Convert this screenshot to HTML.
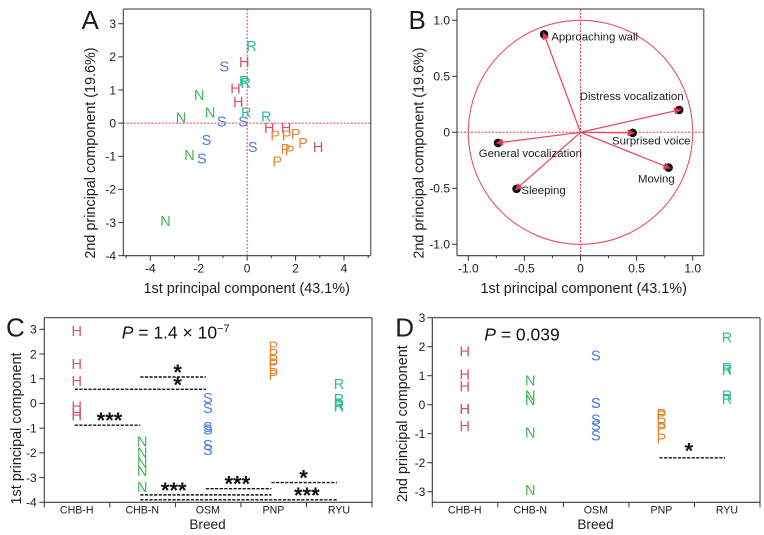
<!DOCTYPE html>
<html lang="en">
<head>
<meta charset="utf-8">
<title>Principal component analysis by breed</title>
<style>
html,body{margin:0;padding:0;background:#fff;width:764px;height:535px;overflow:hidden}
svg{display:block;font-family:"Liberation Sans",Arial,sans-serif;filter:blur(0.3px)}
text{fill:#1c1c1c}
.tick{font-size:12px}
.cat{font-size:10.6px}
.title{font-size:14.4px}
.breedt{font-size:13.6px}
.panel{font-size:26px}
.pv{font-size:17.5px;fill:#111}
.lab{font-size:11.4px}
.star{font-size:22px;font-weight:bold;fill:#111}
.ltr{font-size:14.5px;text-anchor:middle}
</style>
</head>
<body>
<svg id="fig" width="764" height="535" viewBox="0 0 764 535" xmlns="http://www.w3.org/2000/svg"></svg>
<script>
// ---------- data ----------
const breedNames = ["CHB-H","CHB-N","OSM","PNP","RYU"];
const breedLetters = ["H","N","S","P","R"];
const breedColors = ["#d8506c","#44b552","#4c7ae2","#de8a34","#2fbc98"];
const pc1H = [-0.12,-0.48,-0.37,0.91,1.61,2.93];
const pc2H = [1.85,1.05,0.64,-0.14,-0.14,-0.72];
const pc1N = [-1.98,-1.53,-2.73,-2.38,-3.37];
const pc2N = [0.85,0.32,0.17,-0.96,-2.94];
const pc1S = [-0.94,-1.05,-0.17,-1.68,-1.87,0.23];
const pc2S = [1.71,0.06,0.06,-0.50,-1.06,-0.71];
const pc1P = [1.16,1.63,2.00,2.31,1.58,1.76,1.24];
const pc2P = [-0.36,-0.36,-0.32,-0.60,-0.77,-0.82,-1.15];
const pc1R = [0.18,-0.12,-0.06,-0.04,0.79];
const pc2R = [2.33,1.28,1.21,0.32,0.20];
const pc1All = [pc1H,pc1N,pc1S,pc1P,pc1R];
const pc2All = [pc2H,pc2N,pc2S,pc2P,pc2R];

const loadingNames = ["Approaching wall","Distress vocalization","Surprised voice","Moving","Sleeping","General vocalization"];
const loadingPc1 = [-0.325,0.88,0.465,0.785,-0.57,-0.735];
const loadingPc2 = [0.875,0.20,-0.005,-0.315,-0.505,-0.095];

const ticksAX = [-4,-2,0,2,4];
const minorAX = [-5,-3,-1,1,3,5];
const ticksAY = [3,2,1,0,-1,-2,-3,-4];
const ticksBX = [-1,-0.5,0,0.5,1];
const ticksBXLabels = ["-1.0","-0.5","0","0.5","1.0"];
const minorBX = [-0.75,-0.25,0.25,0.75];
const ticksBY = [1,0.5,0,-0.5,-1];
const ticksBYLabels = ["1.0","0.5","0","-0.5","-1.0"];
const ticksCY = [3,2,1,0,-1,-2,-3,-4];
const ticksDY = [3,2,1,0,-1,-2,-3];

const bracketFromC = [1,0,0,1,2,3,1];
const bracketToC = [2,2,1,3,3,4,4];
const bracketLevelC = [1.07,0.57,-0.88,-3.70,-3.45,-3.20,-3.90];
const bracketStarsC = ["*","*","***","***","***","*","***"];
const bracketStarPosC = [1.54,1.54,0.50,1.48,2.45,3.46,3.51];
const bracketFromD = [3];
const bracketToD = [4];
const bracketLevelD = [-1.83];
const bracketStarsD = ["*"];
const bracketStarPosD = [3.42];

// ---------- helpers ----------
const NS = "http://www.w3.org/2000/svg";
const svg = document.getElementById("fig");
function linear(d0,r0,d1,r1){ return v => r0 + (v-d0)*(r1-r0)/(d1-d0); }
function mk(tag,parent,attrs){
  const e = document.createElementNS(NS,tag);
  for(const k in attrs) e.setAttribute(k,attrs[k]);
  parent.appendChild(e);
  return e;
}
function group(parent,name){
  const g = mk("g",parent,{});
  
  
  return g;
}
function line(parent,x1,y1,x2,y2,stroke,w,dash){
  const a = {x1,y1,x2,y2,stroke,"stroke-width":w};
  if(dash) a["stroke-dasharray"]=dash;
  const l = mk("line",parent,a);
  
  return l;
}
function text(parent,cls,x,y,str,anchor){
  const t = mk("text",parent,{class:cls,x,y});
  if(anchor) t.setAttribute("text-anchor",anchor);
  t.textContent = str;
  
  return t;
}
function frame(parent,L,T,R,B,topCol,topW){
  const g = group(parent,"plot-frame");
  const a = line(g,L,B,R,B,"#3c3c3c",1.1);
  
  const b = line(g,L,T,L,B,"#3c3c3c",1.1);
  
  const c = line(g,L,T,R,T,topCol,topW);
  
  const d = line(g,R,T,R,B,topCol,topW);
  
}
function yAxis(parent,values,labels,sy,L,labelX){
  const g = group(parent,"y-axis");
  values.forEach((v,i)=>{
    const tk = line(g,L-5,sy(v),L,sy(v),"#333",1);
    
    const t = text(g,"tick",labelX,sy(v)+4.3,labels[i],"end");
    
  });
}
function xAxis(parent,values,labels,minor,sx,B){
  const g = group(parent,"x-axis");
  values.forEach((v,i)=>{
    const tk = line(g,sx(v),B,sx(v),B+5,"#333",1);
    
    const t = text(g,"tick",sx(v),B+17,labels[i],"middle");
    
  });
  minor.forEach(v=>{
    const tk = line(g,sx(v),B,sx(v),B+2.5,"#333",1);
    
  });
}
function catAxis(parent,sx,L,R,B){
  const g = group(parent,"breed-axis");
  const step = (R-L)/breedNames.length;
  for(let i=0;i<=breedNames.length;i++){
    const tk = line(g,L+i*step,B,L+i*step,B+5,"#333",1);
    
  }
  breedNames.forEach((n,i)=>{
    const t = text(g,"cat",sx(i),B+11.2,n,"middle");
    
  });
}
function yTitle(parent,x,y,str){
  const t = mk("text",parent,{class:"title",transform:`translate(${x},${y}) rotate(-90)`,"text-anchor":"middle"});
  t.textContent = str;
  
  
}
function letter(parent,x,y,b){
  const t = text(parent,"ltr",x,y+5.2,breedLetters[b]);
  t.setAttribute("style","fill:"+breedColors[b]);
  
}
function brackets(parent,from,to,levels,stars,pos,sx,sy,starGap){
  const g = group(parent,"significance-brackets");
  levels.forEach((lv,i)=>{
    const l = line(g,sx(from[i])-2,sy(lv),sx(to[i])-2,sy(lv),"#111",1.4,"3.2 1.4");
    
    const t = text(g,"star",sx(pos[i]),sy(lv)+starGap,stars[i],"middle");
    
  });
}

// ---------- panel A ----------
(function(){
  const p = group(svg,"panel-a");
  const L=123.3,R=370.7,T=9,B=255.7;
  const sx = linear(-4,150.3,4,344), sy = linear(3,23.7,-4,255.7);
  frame(p,L,T,R,B,"#777",1.5);
  const z1 = line(p,L,sy(0),R,sy(0),"#e8384f",1,"2 1.5");
  
  const z2 = line(p,sx(0),T,sx(0),B,"#e8384f",1,"2 1.5");
  
  yAxis(p,ticksAY,ticksAY.map(String),sy,L,116);
  xAxis(p,ticksAX,ticksAX.map(String),minorAX,sx,B);
  const pts = group(p,"scatter-points");
  pc1All.forEach((arr,b)=>arr.forEach((v,i)=>letter(pts,sx(v),sy(pc2All[b][i]),b)));
  const xt = text(p,"title",246.7,293,"1st principal component (43.1%)","middle");
  
  yTitle(p,95,153,"2nd principal component (19.6%)");
  const pl = text(p,"panel",81.5,29,"A");
  
})();

// ---------- panel B ----------
(function(){
  const p = group(svg,"panel-b");
  const L=457,R=703.7,T=9,B=255.7;
  const sx = linear(-1,468.3,1,692.7), sy = linear(1,20.3,-1,244.3);
  frame(p,L,T,R,B,"#777",1.5);
  const z1 = line(p,L,sy(0),R,sy(0),"#e8384f",1,"2 1.5");
  
  const z2 = line(p,sx(0),T,sx(0),B,"#e8384f",1,"2 1.5");
  
  const c = mk("ellipse",p,{cx:sx(0),cy:sy(0),rx:sx(1)-sx(0),ry:sy(-1)-sy(0),fill:"none",stroke:"#e8505f","stroke-width":1.1});
  
  
  yAxis(p,ticksBY,ticksBYLabels,sy,L,450);
  xAxis(p,ticksBX,ticksBXLabels,minorBX,sx,B);
  const labelDx = [7.3,-99.5,-20.7,-30.6,4.8,-19.3];
  const labelDy = [6.4,-10,11.4,15,5,14.3];
  loadingNames.forEach((n,i)=>{
    const x = sx(loadingPc1[i]), y = sy(loadingPc2[i]);
    const g = group(p,"loading-"+n.toLowerCase().replace(/ /g,"-"));
    const dot = mk("circle",g,{cx:x,cy:y,r:4.3,fill:"#111"});
    
    
    const v = line(g,sx(0),sy(0),x,y,"#ea4058",1.2);
    
    const dx = x-sx(0), dy = y-sy(0), len = Math.hypot(dx,dy), ux=dx/len, uy=dy/len;
    const tipx = x+ux*2.5, tipy = y+uy*2.5, bx = tipx-ux*7.5, by = tipy-uy*7.5;
    const head = mk("polygon",g,{points:`${tipx},${tipy} ${bx-uy*3.4},${by+ux*3.4} ${bx+uy*3.4},${by-ux*3.4}`,fill:"#ea3350"});
    
    
    const t = text(g,"lab",x+labelDx[i],y+labelDy[i],n);
    
  });
  const xt = text(p,"title",583.7,293,"1st principal component (43.1%)","middle");
  
  yTitle(p,423.7,153,"2nd principal component (19.6%)");
  const pl = text(p,"panel",408.5,29,"B");
  
})();

// ---------- panel C ----------
(function(){
  const p = group(svg,"panel-c");
  const L=44.3,R=372,T=317.7,B=502.3;
  const sx = linear(0,76.7,4,339), sy = linear(3,329.3,-4,502.3);
  frame(p,L,T,R,B,"#444",1.1);
  yAxis(p,ticksCY,ticksCY.map(String),sy,L,36.7);
  catAxis(p,sx,L,R,B);
  const pts = group(p,"strip-points");
  pc1All.forEach((arr,b)=>arr.forEach(v=>letter(pts,sx(b),sy(v),b)));
  brackets(p,bracketFromC,bracketToC,bracketLevelC,bracketStarsC,bracketStarPosC,sx,sy,3);
  const xt = text(p,"breedt",207.5,529,"Breed","middle");
  
  yTitle(p,21,428.5,"1st principal component");
  const pl = text(p,"panel",6,336.7,"C");
  
  const pv = mk("text",p,{class:"pv",x:121.7,y:338.3});
  
  
  pv.innerHTML = '<tspan font-style="italic">P</tspan> = 1.4 × 10<tspan font-size="11" dy="-6.5">−7</tspan>';
})();

// ---------- panel D ----------
(function(){
  const p = group(svg,"panel-d");
  const L=432.3,R=760,T=317.7,B=502.3;
  const sx = linear(0,464.7,4,727), sy = linear(3,317.7,-3,491.7);
  frame(p,L,T,R,B,"#444",1.1);
  yAxis(p,ticksDY,ticksDY.map(String),sy,L,425.3);
  catAxis(p,sx,L,R,B);
  const pts = group(p,"strip-points");
  pc2All.forEach((arr,b)=>arr.forEach(v=>letter(pts,sx(b),sy(v),b)));
  brackets(p,bracketFromD,bracketToD,bracketLevelD,bracketStarsD,bracketStarPosD,sx,sy,0.5);
  const xt = text(p,"breedt",595.5,529,"Breed","middle");
  
  yTitle(p,407,423.7,"2nd principal component");
  const pl = text(p,"panel",395.3,336.7,"D");
  
  const pv = mk("text",p,{class:"pv",x:484.3,y:340.7});
  
  
  pv.innerHTML = '<tspan font-style="italic">P</tspan> = 0.039';
})();
</script>
</body>
</html>
